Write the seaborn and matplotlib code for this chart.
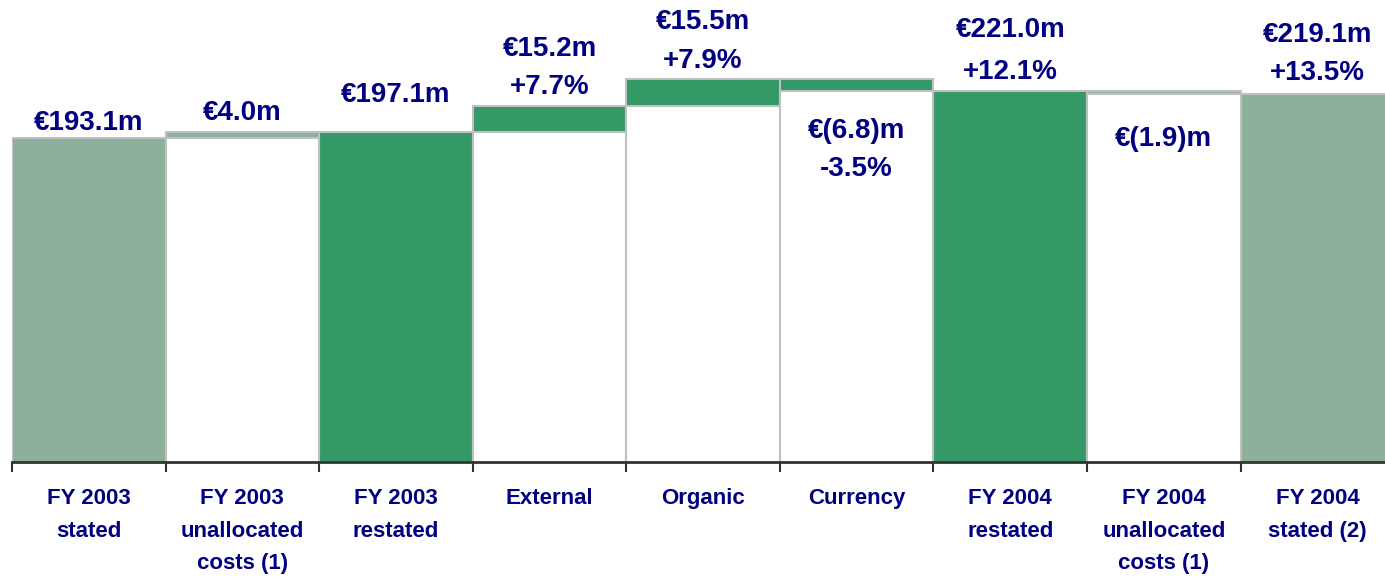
import numpy as np
import matplotlib
matplotlib.use("Agg")
import matplotlib.pyplot as plt
import seaborn as sns

# categories and amounts (EUR m)
categories = ["FY 2003\nstated", "FY 2003\nunallocated\ncosts (1)", "FY 2003\nrestated",
              "External", "Organic", "Currency",
              "FY 2004\nrestated", "FY 2004\nunallocated\ncosts (1)", "FY 2004\nstated (2)"]
amounts = [193.1, 4.0, 197.1, 15.2, 15.5, -6.8, 221.0, -1.9, 219.1]
kinds = ["total", "delta", "total", "delta", "delta", "delta", "total", "delta", "total"]
value_labels = ["€193.1m", "€4.0m", "€197.1m", "€15.2m", "€15.5m", "€(6.8)m",
                "€221.0m", "€(1.9)m", "€219.1m"]
pct_labels = ["", "", "", "+7.7%", "+7.9%", "-3.5%", "+12.1%", "", "+13.5%"]

# running waterfall levels
tops, bases = [], []
level = 0.0
for amt, kind in zip(amounts, kinds):
    if kind == "total":
        level = amt
        tops.append(amt)
        bases.append(0.0)
    else:
        new = level + amt
        tops.append(max(level, new))
        bases.append(min(level, new))
        level = new

LIGHT = "#8CB09C"
GREEN = "#339966"
bar_colors = [LIGHT, LIGHT, GREEN, GREEN, GREEN, GREEN, GREEN, LIGHT, LIGHT]
NAVY = "#000080"
EDGE = "#C0C0C0"

sns.set_style("white")
plt.rcParams["font.family"] = ["Liberation Sans", "DejaVu Sans"]

fig = plt.figure(figsize=(13.85, 5.77), dpi=100)
ax = fig.add_axes([12 / 1385, 115 / 577, 1373 / 1385, 462 / 577])

# full bars in colour, then white bars up to the floor of each step
sns.barplot(x=categories, y=tops, hue=categories, palette=bar_colors, width=1.0,
            saturation=1, edgecolor=EDGE, linewidth=1.5, legend=False, ax=ax, zorder=2)
sns.barplot(x=categories, y=bases, color="white", width=1.0, saturation=1,
            edgecolor=EDGE, linewidth=1.5, ax=ax, zorder=3)

ax.set_xlim(-0.5, 8.44)
ax.set_ylim(2.1, 274.7)
ax.set_yticks([])
ax.set_ylabel("")
for s in ["top", "right", "left"]:
    ax.spines[s].set_visible(False)
ax.spines["bottom"].set_color("#333333")
ax.spines["bottom"].set_linewidth(2)
ax.spines["bottom"].set_zorder(5)

ax.set_xticks(np.arange(len(categories)))
ax.set_xticklabels(categories, fontsize=16, fontweight="bold", color=NAVY,
                   linespacing=1.7, va="top")
ax.tick_params(axis="x", which="major", length=0, pad=19)
ax.set_xticks(np.arange(len(categories)) - 0.5, minor=True)
ax.tick_params(axis="x", which="minor", bottom=True, length=7, width=1.5,
               color="#333333", direction="out")

# label offsets in pixels from the bar top (positive) or bottom (negative)
line1_off = [15, 19, 37, 57, 57, -40, 61, -45, 59]
line2_off = [0, 0, 0, 19, 18, -78, 19, 0, 21]

for i in range(len(categories)):
    anchor = bases[i] if line1_off[i] < 0 else tops[i]
    ax.annotate(value_labels[i], (i, anchor), xytext=(0, line1_off[i] * 0.72),
                textcoords="offset points", ha="center", va="center",
                fontsize=20, fontweight="bold", color=NAVY, zorder=6)
    if pct_labels[i]:
        ax.annotate(pct_labels[i], (i, anchor), xytext=(0, line2_off[i] * 0.72),
                    textcoords="offset points", ha="center", va="center",
                    fontsize=20, fontweight="bold", color=NAVY, zorder=6)

fig.savefig("out.png", dpi=100)
